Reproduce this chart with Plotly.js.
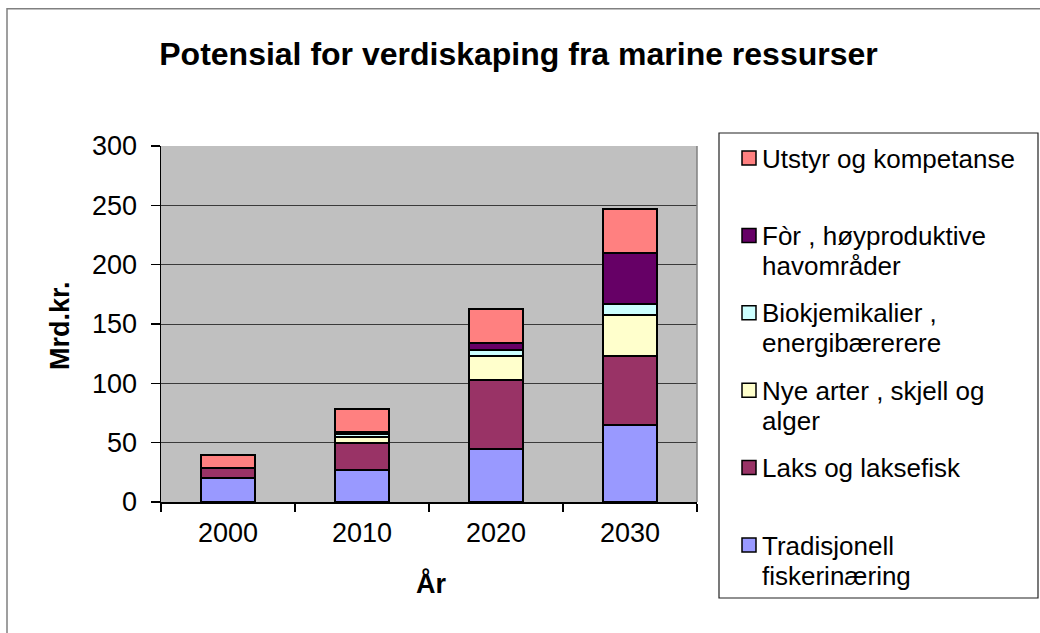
<!DOCTYPE html>
<html>
<head>
<meta charset="utf-8">
<script src="https://cdn.plot.ly/plotly-3.0.1.min.js"></script>
<style>html,body{margin:0;padding:0;background:#fff;}#chart{width:1040px;height:633px;}</style>
</head>
<body>
<div id="chart"></div>
<script>
var years = ["2000", "2010", "2020", "2030"];
var tradisjonell = [20, 27, 45, 65];
var laks = [9, 23, 58, 58];
var nyeArter = [0, 5, 20, 35];
var biokjemikalier = [0, 2, 5, 9];
var forHav = [0, 2, 6, 43];
var utstyr = [11, 19, 29, 37];
var yTicks = [0, 50, 100, 150, 200, 250, 300];

var seriesNames = ["Tradisjonell fiskerinæring", "Laks og laksefisk", "Nye arter , skjell og alger", "Biokjemikalier , energibærerere", "Fòr , høyproduktive havområder", "Utstyr og kompetanse"];
var legendLines = [["Tradisjonell", "fiskerinæring"], ["Laks og laksefisk"], ["Nye arter , skjell og", "alger"], ["Biokjemikalier ,", "energibærerere"], ["Fòr , høyproduktive", "havområder"], ["Utstyr og kompetanse"]];
var seriesValues = [tradisjonell, laks, nyeArter, biokjemikalier, forHav, utstyr];
var colors = ["#9999FF", "#993366", "#FFFFCC", "#CCFFFF", "#660066", "#FF8080"];

var FONT = "Liberation Sans, Arial, sans-serif";
// plot area in pixels
var PL = 161, PR = 697, PT = 146, PB = 502;
var PW = PR - PL, PH = PB - PT;
function px(x) { return (x - PL) / PW; }
function py(y) { return (PB - y) / PH; }

var traces = seriesValues.map(function (vals, i) {
  return {
    type: "bar",
    name: seriesNames[i],
    x: years,
    y: vals,
    marker: { color: colors[i], line: { color: "#000", width: 2 } },
    hoverinfo: "skip"
  };
});

var shapes = [];
var annotations = [];

// outer chart frame (clipped at right/bottom like reference)
shapes.push({ type: "rect", xref: "paper", yref: "paper", x0: px(7), x1: px(1050), y0: py(645), y1: py(8.7), line: { color: "#808080", width: 1.5 }, layer: "below" });

// legend box
shapes.push({ type: "rect", xref: "paper", yref: "paper", x0: px(719), x1: px(1038), y0: py(598), y1: py(133), line: { color: "#222", width: 1.2 }, fillcolor: "rgba(255,255,255,0)" });

// legend items, top to bottom = reverse stacking order
var itemTop0 = 151, itemStep = 77.4;
for (var k = 0; k < seriesNames.length; k++) {
  var idx = seriesNames.length - 1 - k;
  var itTop = itemTop0 + k * itemStep;
  shapes.push({ type: "rect", xref: "paper", yref: "paper", x0: px(742), x1: px(756), y0: py(itTop + 14), y1: py(itTop), fillcolor: colors[idx], line: { color: "#000", width: 1.5 } });
  var lines = legendLines[idx];
  for (var j = 0; j < lines.length; j++) {
    annotations.push({ xref: "paper", yref: "paper", x: px(760), y: py(itTop + 7.5 + j * 30), xanchor: "left", yanchor: "middle", showarrow: false, text: lines[j], font: { family: FONT, size: 26, color: "#000" } });
  }
}

// axis titles
annotations.push({ xref: "paper", yref: "paper", x: px(60), y: py(326), textangle: -90, xanchor: "center", yanchor: "middle", showarrow: false, text: "<b>Mrd.kr.</b>", font: { family: FONT, size: 27, color: "#000" } });
annotations.push({ xref: "paper", yref: "paper", x: px(431), y: py(583), xanchor: "center", yanchor: "middle", showarrow: false, text: "<b>År</b>", font: { family: FONT, size: 27, color: "#000" } });

// plot area right border
shapes.push({ type: "line", xref: "paper", yref: "paper", x0: 1, x1: 1, y0: 0, y1: 1, line: { color: "#808080", width: 1.5 } });

var layout = {
  width: 1040, height: 633,
  margin: { l: PL, r: 1040 - PR, t: PT, b: 633 - PB, pad: 0 },
  paper_bgcolor: "#fff",
  plot_bgcolor: "#C0C0C0",
  barmode: "stack",
  bargap: 0.6,
  showlegend: false,
  title: { text: "<b>Potensial for verdiskaping fra marine ressurser</b>", xref: "container", yref: "container", x: 518.5 / 1040, y: 1 - 54 / 633, xanchor: "center", yanchor: "middle", font: { family: FONT, size: 32, color: "#000" } },
  xaxis: {
    type: "category", categoryorder: "array", categoryarray: years,
    tickson: "boundaries", ticks: "outside", ticklen: 8, tickwidth: 1.2, tickcolor: "#000",
    showline: true, linecolor: "#000", linewidth: 1.5, showgrid: false,
    tickfont: { family: FONT, size: 27, color: "#000" }, ticklabelstandoff: 6,
    fixedrange: true
  },
  yaxis: {
    range: [0, 300], tickvals: yTicks, ticktext: yTicks.map(String),
    ticks: "outside", ticklen: 9, tickwidth: 1.2, tickcolor: "#000",
    showline: true, linecolor: "#000", linewidth: 1.5,
    showgrid: true, gridcolor: "#3a3a3a", gridwidth: 1, zeroline: false,
    tickfont: { family: FONT, size: 27, color: "#000" }, ticklabelstandoff: 8,
    fixedrange: true
  },
  shapes: shapes,
  annotations: annotations
};

Plotly.newPlot("chart", traces, layout, { staticPlot: true, displayModeBar: false });
</script>
</body>
</html>
